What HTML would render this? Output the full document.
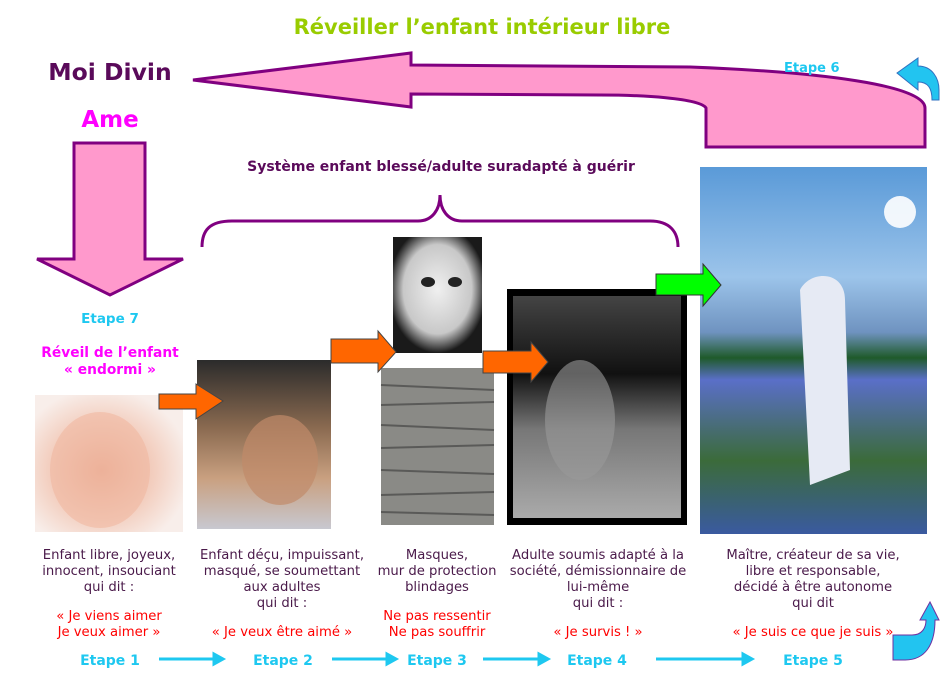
<!DOCTYPE html>
<html><head><meta charset="utf-8"><style>
html,body{margin:0;padding:0;background:#fff;width:940px;height:686px;overflow:hidden}
svg{display:block}
text{font-family:"DejaVu Sans","Liberation Sans",sans-serif}
.b{fill:#4a1a4a;font-size:13.2px}
.r{fill:#ff0000;font-size:13.2px}
.e{fill:#1ec8f0;font-size:14px;font-weight:bold}
</style></head><body>
<svg width="940" height="686" viewBox="0 0 940 686" xmlns="http://www.w3.org/2000/svg">
<defs>
<linearGradient id="sky" x1="0" y1="0" x2="0" y2="1">
<stop offset="0" stop-color="#5a9ad8"/><stop offset="0.3" stop-color="#9cc4ea"/><stop offset="0.45" stop-color="#6f93c0"/><stop offset="0.52" stop-color="#1f5a2a"/><stop offset="0.58" stop-color="#5a6fc8"/><stop offset="0.8" stop-color="#3b6b3a"/><stop offset="1" stop-color="#3a5aa0"/>
</linearGradient>
<linearGradient id="girl" x1="0" y1="0" x2="0" y2="1">
<stop offset="0" stop-color="#444"/><stop offset="0.35" stop-color="#111"/><stop offset="0.6" stop-color="#777"/><stop offset="1" stop-color="#aaa"/>
</linearGradient>
<radialGradient id="baby" cx="0.45" cy="0.55" r="0.6">
<stop offset="0" stop-color="#e8a890"/><stop offset="0.6" stop-color="#f3cfc0"/><stop offset="1" stop-color="#f8eeea"/>
</radialGradient>
<linearGradient id="boy" x1="0" y1="0" x2="0" y2="1">
<stop offset="0" stop-color="#2b2b2b"/><stop offset="0.4" stop-color="#8a6a50"/><stop offset="0.7" stop-color="#c9a080"/><stop offset="1" stop-color="#c8c8d0"/>
</linearGradient>
<radialGradient id="mask" cx="0.5" cy="0.45" r="0.55">
<stop offset="0" stop-color="#f0f0f0"/><stop offset="0.7" stop-color="#c8c8c8"/><stop offset="1" stop-color="#1a1a1a"/>
</radialGradient>
</defs>

<text x="482" y="34" text-anchor="middle" fill="#99cc00" font-size="21" font-weight="bold">Réveiller l’enfant intérieur libre</text>
<text x="110" y="80" text-anchor="middle" fill="#5a0a5a" font-size="23.5" font-weight="bold">Moi Divin</text>
<text x="110" y="127" text-anchor="middle" fill="#ff00ff" font-size="23" font-weight="bold">Ame</text>

<path d="M193,80 L411,53 L411,65 L690,67 C820,72 925,85 925,108 L925,147 L706,147 L706,108 C700,98 640,95 600,95 L411,94 L411,107 Z" fill="#ff99cc" stroke="#800080" stroke-width="3" stroke-linejoin="miter"/>

<path d="M74,143 L145,143 L145,259 L183,259 L110,295 L37,259 L74,259 Z" fill="#ff99cc" stroke="#800080" stroke-width="3"/>

<text x="784" y="72" fill="#1ec8f0" font-size="13" font-weight="bold">Etape 6</text>
<path d="M939,100 L932,100 C932,88 928,82 918,82 L918,90 L897,73 L918,58 L918,66 C932,66 939,78 939,90 Z" fill="#22c4f0" stroke="#3070c0" stroke-width="1"/>

<text x="441" y="171" text-anchor="middle" fill="#5a0a5a" font-size="14" font-weight="bold">Système enfant blessé/adulte suradapté à guérir</text>
<path d="M202,247 C202,230 210,221 232,221 L418,221 C432,221 440,210 440,195 C440,210 448,221 462,221 L650,221 C670,221 678,232 678,247" fill="none" stroke="#800080" stroke-width="3"/>

<text x="110" y="323" text-anchor="middle" fill="#1ec8f0" font-size="13.5" font-weight="bold">Etape 7</text>
<text x="110" y="357" text-anchor="middle" fill="#ff00ff" font-size="13.8" font-weight="bold">Réveil de l’enfant</text>
<text x="110" y="374" text-anchor="middle" fill="#ff00ff" font-size="13.8" font-weight="bold">« endormi »</text>

<rect x="35" y="395" width="148" height="137" fill="url(#baby)"/>
<ellipse cx="100" cy="470" rx="50" ry="58" fill="#f0b8a0" opacity="0.6"/>
<rect x="197" y="360" width="134" height="169" fill="url(#boy)"/>
<ellipse cx="280" cy="460" rx="38" ry="45" fill="#c08a6a" opacity="0.7"/>
<rect x="393" y="237" width="89" height="116" fill="url(#mask)"/>
<ellipse cx="428" cy="282" rx="7" ry="5" fill="#222"/><ellipse cx="455" cy="282" rx="7" ry="5" fill="#222"/>
<rect x="381" y="368" width="113" height="157" fill="#8a8a86"/>
<g stroke="#5a5a58" stroke-width="2">
<line x1="381" y1="385" x2="494" y2="390"/><line x1="381" y1="405" x2="494" y2="402"/><line x1="381" y1="425" x2="494" y2="430"/><line x1="381" y1="448" x2="494" y2="445"/><line x1="381" y1="470" x2="494" y2="474"/><line x1="381" y1="495" x2="494" y2="492"/><line x1="381" y1="512" x2="494" y2="515"/>
</g>
<rect x="507" y="289" width="180" height="236" fill="#000"/>
<rect x="513" y="296" width="168" height="222" fill="url(#girl)"/>
<ellipse cx="580" cy="420" rx="35" ry="60" fill="#999" opacity="0.6"/>
<rect x="700" y="167" width="227" height="367" fill="url(#sky)"/>
<circle cx="900" cy="212" r="16" fill="#fff" opacity="0.9"/>
<path d="M800,290 C810,270 845,270 845,300 L850,470 L810,485 Z" fill="#e6eaf4"/>

<path d="M159,394 L196,394 L196,384 L223,401 L196,419 L196,409 L159,409 Z" fill="#ff6600" stroke="#444" stroke-width="1"/>
<path d="M331,339 L378,339 L378,331 L396,352 L378,372 L378,363 L331,363 Z" fill="#ff6600" stroke="#444" stroke-width="1"/>
<path d="M483,351 L531,351 L531,342 L548,362 L531,382 L531,373 L483,373 Z" fill="#ff6600" stroke="#444" stroke-width="1"/>
<path d="M656,274 L703,274 L703,264 L721,285 L703,306 L703,295 L656,295 Z" fill="#00ff00" stroke="#333" stroke-width="1"/>

<g text-anchor="middle">
<text class="b" x="109" y="559">Enfant libre, joyeux,</text>
<text class="b" x="109" y="575">innocent, insouciant</text>
<text class="b" x="109" y="591">qui dit :</text>
<text class="r" x="109" y="620">« Je viens aimer</text>
<text class="r" x="109" y="636">Je veux aimer »</text>

<text class="b" x="282" y="559">Enfant déçu, impuissant,</text>
<text class="b" x="282" y="575">masqué, se soumettant</text>
<text class="b" x="282" y="591">aux adultes</text>
<text class="b" x="282" y="607">qui dit :</text>
<text class="r" x="282" y="636">« Je veux être aimé »</text>

<text class="b" x="437" y="559">Masques,</text>
<text class="b" x="437" y="575">mur de protection</text>
<text class="b" x="437" y="591">blindages</text>
<text class="r" x="437" y="620">Ne pas ressentir</text>
<text class="r" x="437" y="636">Ne pas souffrir</text>

<text class="b" x="598" y="559">Adulte soumis adapté à la</text>
<text class="b" x="598" y="575">société, démissionnaire de</text>
<text class="b" x="598" y="591">lui-même</text>
<text class="b" x="598" y="607">qui dit :</text>
<text class="r" x="598" y="636">« Je survis ! »</text>

<text class="b" x="813" y="559">Maître, créateur de sa vie,</text>
<text class="b" x="813" y="575">libre et responsable,</text>
<text class="b" x="813" y="591">décidé à être autonome</text>
<text class="b" x="813" y="607">qui dit</text>
<text class="r" x="813" y="636">« Je suis ce que je suis »</text>

<text class="e" x="110" y="665">Etape 1</text>
<text class="e" x="283" y="665">Etape 2</text>
<text class="e" x="437" y="665">Etape 3</text>
<text class="e" x="597" y="665">Etape 4</text>
<text class="e" x="813" y="665">Etape 5</text>
</g>
<g stroke="#1ec8f0" stroke-width="3" fill="#1ec8f0">
<line x1="159" y1="659" x2="216" y2="659"/><path d="M214,654 L223,659 L214,664 Z"/>
<line x1="332" y1="659" x2="389" y2="659"/><path d="M387,654 L396,659 L387,664 Z"/>
<line x1="483" y1="659" x2="541" y2="659"/><path d="M539,654 L548,659 L539,664 Z"/>
<line x1="656" y1="659" x2="745" y2="659"/><path d="M743,654 L752,659 L743,664 Z"/>
</g>
<path d="M893,660 L893,635 L912,635 C922,635 926,628 926,620 L920,620 L930,602 L939,620 L935,620 C935,645 925,660 905,660 Z" fill="#22c4f0" stroke="#7030a0" stroke-width="1"/>
</svg>
</body></html>
